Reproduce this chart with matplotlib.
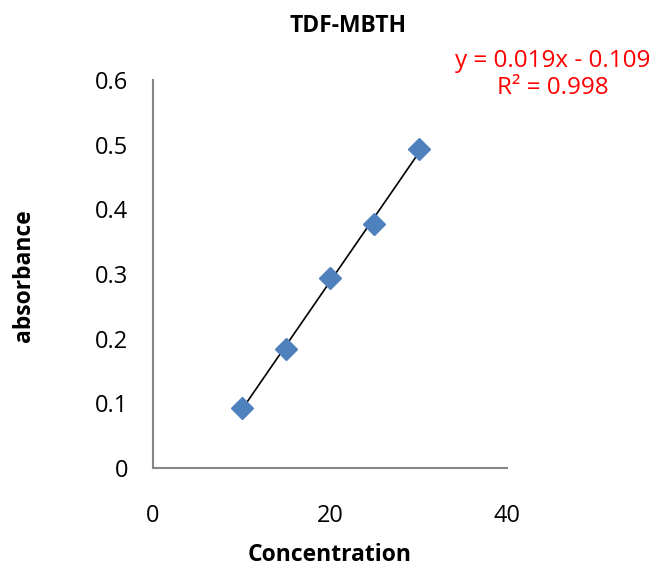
import numpy as np
import matplotlib
matplotlib.use("Agg")
import matplotlib.pyplot as plt

plt.rcParams['font.family'] = ['Open Sans', 'DejaVu Sans']

# data
concentration = [10, 15, 20, 25, 30]
absorbance = [0.093, 0.184, 0.294, 0.377, 0.493]
x_ticks = [0, 20, 40]
y_ticks = [0, 0.1, 0.2, 0.3, 0.4, 0.5, 0.6]
y_tick_labels = ['0', '0.1', '0.2', '0.3', '0.4', '0.5', '0.6']

fig = plt.figure(figsize=(6.55, 5.72), dpi=100)
ax = fig.add_axes([153/655, 1-468/572, (507-153)/655, (468-80)/572])

# linear trendline
slope, intercept = np.polyfit(concentration, absorbance, 1)
xs = np.array([min(concentration), max(concentration)])
ax.plot(xs, slope*xs + intercept, color='black', linewidth=1.2, zorder=2)
ax.plot(concentration, absorbance, linestyle='none', marker='D', markersize=11,
        color='#4F81BD', markeredgecolor='#4F81BD', zorder=3)

ax.set_xlim(0, 40)
ax.set_ylim(0, 0.6)
ax.set_xticks(x_ticks)
ax.set_yticks(y_ticks)
ax.set_yticklabels(y_tick_labels)
ax.tick_params(axis='both', length=0, labelsize=17)
ax.tick_params(axis='y', pad=18)
ax.tick_params(axis='x', pad=26)
for s in ['top', 'right']:
    ax.spines[s].set_visible(False)
for s in ['left', 'bottom']:
    ax.spines[s].set_color('#868686')
    ax.spines[s].set_linewidth(1.5)

fig.text(348/655, 1-26/572, 'TDF-MBTH', ha='center', va='center', fontsize=16.5, fontweight='bold')
fig.text(330/655, 1-555/572, 'Concentration', ha='center', va='center', fontsize=16.5, fontweight='bold')
fig.text(24/655, 1-276/572, 'absorbance', ha='center', va='center', rotation=90, fontsize=16.5, fontweight='bold')

fig.text(553/655, 1-61/572, 'y = 0.019x - 0.109', ha='center', va='center', fontsize=17.5, color='red')
fig.text(553/655, 1-88/572, 'R² = 0.998', ha='center', va='center', fontsize=17.5, color='red')

fig.savefig('out.png', dpi=100)
